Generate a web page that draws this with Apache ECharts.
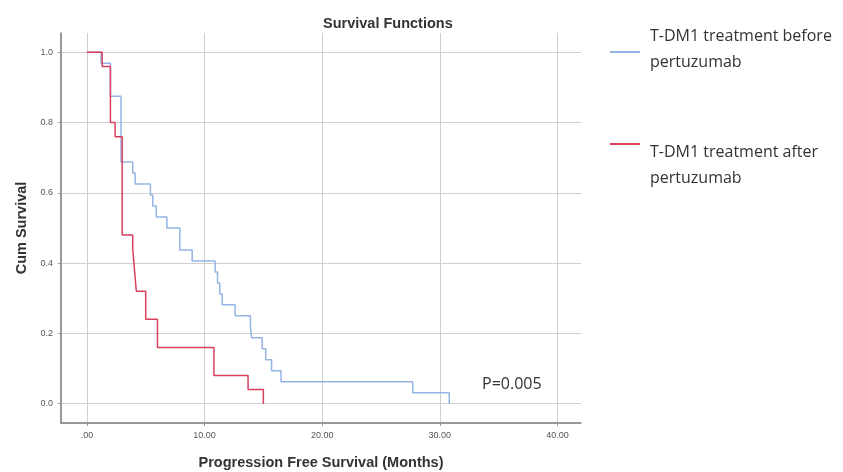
<!DOCTYPE html>
<html>
<head>
<meta charset="utf-8">
<script src="https://cdn.jsdelivr.net/npm/echarts@6/dist/echarts.min.js"></script>
<style>html,body{margin:0;padding:0;background:#fff;}#c{width:843px;height:472px;}</style>
</head>
<body>
<div id="c"></div>
<script>
// Kaplan-Meier steps: time (months) and survival after that time
const beforeTimes = [0, 1.2, 2.0, 2.9, 3.9, 4.1, 5.4, 5.6, 5.9, 6.8, 7.9, 8.95, 10.9, 11.1, 11.3, 11.5, 12.6, 13.9, 14.0, 14.9, 15.2, 15.7, 16.5, 27.7, 30.8];
const beforeSurv  = [1.0, 0.96875, 0.875, 0.6875, 0.65625, 0.625, 0.59375, 0.5625, 0.53125, 0.5, 0.4375, 0.40625, 0.375, 0.34375, 0.3125, 0.28125, 0.25, 0.21875, 0.1875, 0.15625, 0.125, 0.09375, 0.0625, 0.03125, 0.0];
const afterTimes  = [0, 1.3, 2.0, 2.4, 3.0, 3.9, 4.0, 4.1, 4.2, 5.0, 6.0, 10.8, 13.7, 15.0];
const afterSurv   = [1.0, 0.96, 0.80, 0.76, 0.48, 0.44, 0.40, 0.36, 0.32, 0.24, 0.16, 0.08, 0.04, 0.0];
const xTickValues = [0, 10, 20, 30, 40];
const xTickLabels = ['.00', '10.00', '20.00', '30.00', '40.00'];
const yTickValues = [0, 0.2, 0.4, 0.6, 0.8, 1.0];
const yTickLabels = ['0.0', '0.2', '0.4', '0.6', '0.8', '1.0'];
const seriesNames = ['T-DM1 treatment before', 'T-DM1 treatment after'];
const legendSecondLine = 'pertuzumab';
const pText = 'P=0.005';

const zip = (a, b) => a.map((v, i) => [v, b[i]]);
const blue = '#94b4e4', red = '#d8405c';

const legendRich = {
  t: {fontFamily: 'Open Sans', fontSize: 16, color: '#333', lineHeight: 26},
  s: {fontSize: 10, lineHeight: 42},
  b: {fontSize: 10, lineHeight: 6}
};

const chart = echarts.init(document.getElementById('c'), null, {renderer: 'canvas'});
chart.setOption({
  animation: false,
  backgroundColor: '#fff',
  title: {
    text: 'Survival Functions',
    left: 318, top: 11,
    textStyle: {fontFamily: 'Liberation Sans', fontWeight: 'bold', fontSize: 14.5, color: '#333'}
  },
  legend: [
    {
      data: [seriesNames[0]], left: 610, top: 28, padding: 0, orient: 'vertical',
      icon: 'rect', itemWidth: 30, itemHeight: 2, itemGap: 10,
      formatter: n => '{t|' + n + '}\n{t|' + legendSecondLine + '}\n{b| }',
      textStyle: {padding: [0, 0, 0, 5], rich: legendRich}
    },
    {
      data: [seriesNames[1]], left: 610, top: 113, padding: 0, orient: 'vertical',
      icon: 'rect', itemWidth: 30, itemHeight: 2, itemGap: 10,
      formatter: n => '{s| }\n{t|' + n + '}\n{t|' + legendSecondLine + '}',
      textStyle: {padding: [0, 0, 0, 5], rich: legendRich}
    }
  ],
  grid: {left: 61, right: 262, top: 33, bottom: 49, containLabel: false, outerBoundsMode: 'none'},
  xAxis: {
    type: 'value', min: -2.2, max: 42,
    name: 'Progression Free Survival (Months)', nameLocation: 'middle', nameGap: 32,
    nameTextStyle: {fontFamily: 'Liberation Sans', fontWeight: 'bold', fontSize: 14.5, color: '#333'},
    axisLine: {show: true, onZero: false, lineStyle: {color: '#777', width: 1.5}},
    axisTick: {show: true, length: 3, customValues: xTickValues, lineStyle: {color: '#999'}},
    axisLabel: {customValues: xTickValues, margin: 8, fontFamily: 'Liberation Sans', fontSize: 9, color: '#555',
      formatter: v => xTickLabels[xTickValues.indexOf(Math.round(v))] ?? ''},
    splitLine: {show: true, lineStyle: {color: '#cfcfcf', width: 1}}
  },
  yAxis: {
    type: 'value', min: -0.055, max: 1.055,
    name: 'Cum Survival', nameLocation: 'middle', nameGap: 31, nameRotate: 90,
    nameTextStyle: {fontFamily: 'Liberation Sans', fontWeight: 'bold', fontSize: 14.5, color: '#333'},
    axisLine: {show: true, onZero: false, lineStyle: {color: '#777', width: 1.5}},
    axisTick: {show: true, length: 3, customValues: yTickValues, lineStyle: {color: '#999'}},
    axisLabel: {customValues: yTickValues, margin: 8, fontFamily: 'Liberation Sans', fontSize: 9, color: '#555',
      formatter: v => yTickLabels[yTickValues.findIndex(t => Math.abs(t - v) < 1e-6)] ?? ''},
    splitLine: {show: true, lineStyle: {color: '#cfcfcf', width: 1}}
  },
  graphic: [
    {type: 'text', left: 482, top: 376, style: {text: pText, fontFamily: 'Open Sans', fontSize: 16, fill: '#333'}}
  ],
  series: [
    {name: seriesNames[0], type: 'line', step: 'end', data: zip(beforeTimes, beforeSurv), showSymbol: false,
      lineStyle: {color: blue, width: 1.5}, itemStyle: {color: blue}, z: 2},
    {name: seriesNames[1], type: 'line', step: 'end', data: zip(afterTimes, afterSurv), showSymbol: false,
      lineStyle: {color: red, width: 1.5}, itemStyle: {color: red}, z: 3}
  ]
});
</script>
</body>
</html>
